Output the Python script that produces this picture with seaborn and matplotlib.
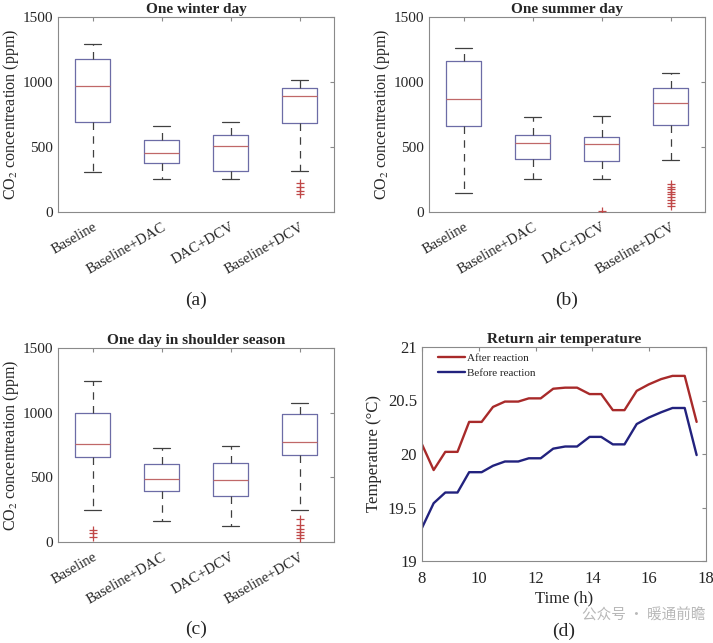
import numpy as np
import pandas as pd
import seaborn as sns
import matplotlib.pyplot as plt

# box plot data: per scenario [lower whisker, Q1, median, Q3, upper whisker] (ppm)
categories = ["Baseline", "Baseline+DAC", "DAC+DCV", "Baseline+DCV"]

winter_box = [[305, 696, 973, 1177, 1295],
              [251, 374, 456, 553, 660],
              [251, 312, 507, 594, 694],
              [317, 681, 896, 957, 1014]]
winter_outliers = {"Baseline+DCV": [220, 190, 165, 140]}

summer_box = [[148, 660, 873, 1162, 1265],
              [251, 404, 532, 594, 727],
              [251, 394, 520, 578, 740],
              [402, 671, 837, 955, 1072]]
summer_outliers = {"DAC+DCV": [8],
                   "Baseline+DCV": [215, 195, 175, 155, 135, 115, 95, 72, 50]}

shoulder_box = [[251, 661, 756, 997, 1241],
                [162, 394, 486, 600, 725],
                [124, 358, 481, 607, 744],
                [246, 674, 772, 992, 1075]]
shoulder_outliers = {"Baseline": [93, 72, 36],
                     "Baseline+DCV": [179, 134, 99, 78, 57, 31]}

# return air temperature
time_h = [8.0, 8.41, 8.82, 9.25, 9.66, 10.1, 10.5, 10.92, 11.39, 11.76, 12.18, 12.62,
          13.04, 13.46, 13.9, 14.31, 14.72, 15.13, 15.56, 15.98, 16.42, 16.82, 17.25, 17.67]
after_reaction = [20.09, 19.85, 20.02, 20.02, 20.30, 20.30, 20.44, 20.49, 20.49, 20.52, 20.52, 20.61,
                  20.62, 20.62, 20.56, 20.56, 20.41, 20.41, 20.59, 20.65, 20.70, 20.73, 20.73, 20.30]
before_reaction = [19.31, 19.54, 19.64, 19.64, 19.83, 19.83, 19.89, 19.93, 19.93, 19.96, 19.96, 20.05,
                   20.07, 20.07, 20.16, 20.16, 20.09, 20.09, 20.28, 20.34, 20.39, 20.43, 20.43, 19.99]

sns.set_style("white")
plt.rcParams['font.family'] = ['Liberation Serif', 'Noto Sans CJK SC']
plt.rcParams['mathtext.fontset'] = 'stix'
plt.rcParams['axes.edgecolor'] = '#8a8a8a'
plt.rcParams['axes.linewidth'] = 0.8

W, H = 713, 643
fig = plt.figure(figsize=(W / 100, H / 100), dpi=100)


def box_panel(rect, box, outliers, title, tag, tag_y):
    ax = fig.add_axes(rect)
    rows = []
    for cat, vals in zip(categories, box):
        for v in vals:
            rows.append({"scenario": cat, "co2": v})
    df = pd.DataFrame(rows)
    sns.boxplot(data=df, x="scenario", y="co2", order=categories, whis=(0, 100),
                width=0.5, fill=False, linewidth=0.9, ax=ax, capwidths=0.25,
                boxprops=dict(color='#6c6ca6'),
                medianprops=dict(color='#c06868'),
                whiskerprops=dict(color='#404040', linestyle=(0, (6, 5))),
                capprops=dict(color='#404040'))
    orows = [{"scenario": c, "co2": v} for c, vs in outliers.items() for v in vs]
    odf = pd.DataFrame(orows)
    sns.stripplot(data=odf, x="scenario", y="co2", order=categories, jitter=False,
                  marker='+', color='#c04848', size=5.5, linewidth=0.9, ax=ax)
    ax.set_xlim(-0.5, 3.5)
    ax.set_ylim(0, 1500)
    ax.set_yticks([0, 500, 1000, 1500])
    ax.set_xlabel("")
    ax.set_ylabel("CO$_2$ concentreation (ppm)", fontsize=11.5, labelpad=1)
    ax.set_title(title, fontsize=11, fontweight='bold', pad=3)
    ax.tick_params(direction='in', top=True, right=True, length=3,
                   color='#8a8a8a', labelsize=11)
    ax.tick_params(axis='x', pad=6)
    plt.setp(ax.get_xticklabels(), rotation=30, ha='right', rotation_mode='anchor',
             fontsize=10.5)
    for s in ax.spines.values():
        s.set_visible(True)
    fig.text(rect[0] + rect[2] / 2, tag_y, tag, ha='center', va='center', fontsize=14)
    return ax


box_panel([58 / W, 1 - 212 / H, 276 / W, 195 / H], winter_box, winter_outliers,
          "One winter day", "(a)", 1 - 300 / H)
box_panel([429 / W, 1 - 212 / H, 276 / W, 195 / H], summer_box, summer_outliers,
          "One summer day", "(b)", 1 - 300 / H)
box_panel([58 / W, 1 - 542 / H, 276 / W, 194 / H], shoulder_box, shoulder_outliers,
          "One day in shoulder season", "(c)", 1 - 629 / H)

# (d) line chart
ax = fig.add_axes([422 / W, 1 - 561 / H, 284 / W, 214 / H])
tdf = pd.DataFrame({"time": time_h * 2,
                    "temp": after_reaction + before_reaction,
                    "case": ["After reaction"] * len(time_h) + ["Before reaction"] * len(time_h)})
sns.lineplot(data=tdf, x="time", y="temp", hue="case",
             palette={"After reaction": '#a82a2a', "Before reaction": '#22227e'},
             linewidth=1.7, ax=ax)
ax.set_xlim(8, 18)
ax.set_ylim(19, 21)
ax.set_xticks([8, 10, 12, 14, 16, 18])
ax.set_yticks([19, 19.5, 20, 20.5, 21])
ax.set_yticklabels(["19", "19.5", "20", "20.5", "21"])
ax.set_xlabel("Time (h)", fontsize=12, labelpad=3)
ax.set_ylabel("Temperature (°C)", fontsize=12)
ax.set_title("Return air temperature", fontsize=11, fontweight='bold', pad=3)
ax.tick_params(direction='in', top=True, right=True, length=3,
               color='#8a8a8a', labelsize=12)
ax.tick_params(axis='x', pad=7)
for s in ax.spines.values():
    s.set_visible(True)
leg = ax.legend(loc='upper left', bbox_to_anchor=(0.045, 0.985), frameon=False,
                fontsize=8, handlelength=2.4, handletextpad=0.2, labelspacing=0.4,
                borderaxespad=0, borderpad=0.3)
fig.text(564 / W, 1 - 631 / H, "(d)", ha='center', va='center', fontsize=14)

# watermark
fig.text(706 / W, 1 - 616 / H, "公众号 · 暖通前瞻", ha='right', va='center',
         fontsize=10.5, color='#b8b8b8', family=['Noto Sans CJK SC'])

fig.savefig("out.png", dpi=100)
